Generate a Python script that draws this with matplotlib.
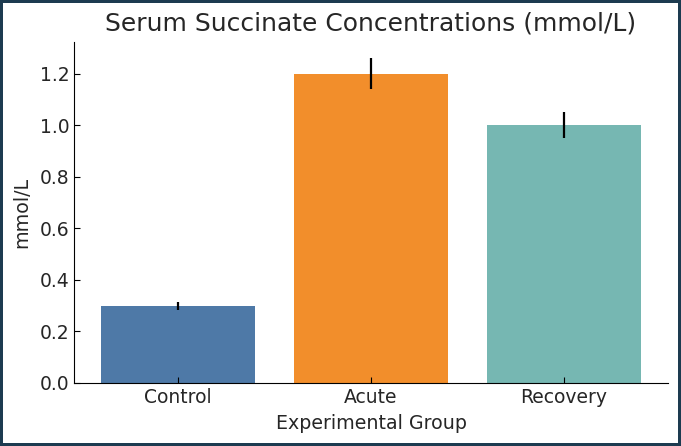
import matplotlib.pyplot as plt

groups = ["Control", "Acute", "Recovery"]
means = [0.30, 1.20, 1.00]
errors = [0.015, 0.06, 0.05]
colors = ["#4e79a7", "#f28e2b", "#76b7b2"]

fig = plt.figure(figsize=(6.81, 4.46), dpi=100)
fig.patch.set_edgecolor("#1d3b50")
fig.patch.set_linewidth(3)
ax = fig.add_axes([0.1087, 0.1413, 0.8723, 0.7645])

ax.bar(groups, means, yerr=errors, color=colors, width=0.8,
       error_kw=dict(ecolor="black", elinewidth=1.6, capsize=0))

ax.set_title("Serum Succinate Concentrations (mmol/L)", fontsize=18, color="#262626", pad=8)
ax.set_xlabel("Experimental Group", fontsize=13.7, color="#262626", labelpad=5)
ax.set_ylabel("mmol/L", fontsize=13.7, color="#262626", labelpad=6)
ax.tick_params(direction="in", length=4.5, labelsize=13.5, labelcolor="#262626")
ax.spines["top"].set_visible(False)
ax.spines["right"].set_visible(False)

fig.savefig("out.png", dpi=100, edgecolor=fig.get_edgecolor())
